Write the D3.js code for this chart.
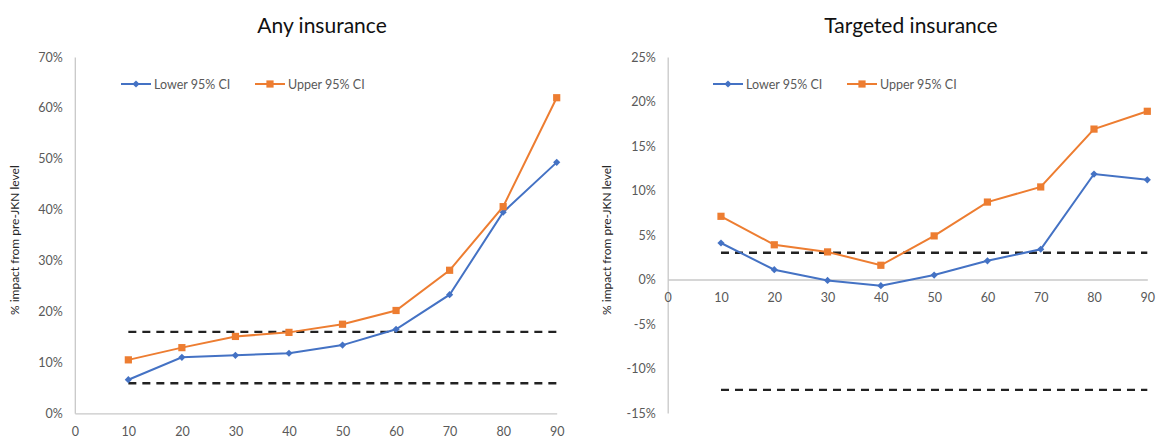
<!DOCTYPE html>
<html>
<head>
<meta charset="utf-8">
<script src="https://cdn.jsdelivr.net/npm/d3@7"></script>
<style>
  body { margin: 0; background: #fff; }
  svg { display: block; font-family: Lato, "Open Sans", sans-serif; }
</style>
</head>
<body>
<svg id="chart" width="1158" height="441"></svg>
<script>
// Percentile points along the x axis
const percentiles = [10, 20, 30, 40, 50, 60, 70, 80, 90];
const xTicks = [0, 10, 20, 30, 40, 50, 60, 70, 80, 90];

// Any insurance: 95% confidence bounds (%)
const anyLower = [6.6, 11.0, 11.4, 11.8, 13.4, 16.5, 23.3, 39.5, 49.3];
const anyUpper = [10.5, 12.9, 15.1, 15.9, 17.5, 20.2, 28.1, 40.6, 62.0];
const anyRefLines = [16.0, 5.9];
const anyYTicks = [0, 10, 20, 30, 40, 50, 60, 70];

// Targeted insurance: 95% confidence bounds (%)
const tgtLower = [4.1, 1.1, -0.1, -0.7, 0.5, 2.1, 3.4, 11.85, 11.2];
const tgtUpper = [7.1, 3.9, 3.1, 1.6, 4.9, 8.7, 10.4, 16.9, 18.9];
const tgtRefLines = [3.0, -12.4];
const tgtYTicks = [-15, -10, -5, 0, 5, 10, 15, 20, 25];

const seriesNames = ["Lower 95% CI", "Upper 95% CI"];
const BLUE = "#4472C4", ORANGE = "#ED7D31";

const svg = d3.select("#chart");

const panels = [
  { title: "Any insurance", lower: anyLower, upper: anyUpper, refs: anyRefLines,
    yTicks: anyYTicks, left: 74.8, right: 556.7, top: 57, bottom: 413.3,
    titleX: 322, labelX: 15, legendX: 121 },
  { title: "Targeted insurance", lower: tgtLower, upper: tgtUpper, refs: tgtRefLines,
    yTicks: tgtYTicks, left: 667.7, right: 1147.3, top: 57, bottom: 413,
    titleX: 911, labelX: 607, legendX: 713 }
];

// equal-sided diamond (rotated square) and square markers
const diamondPath = d3.symbol().type(d3.symbolSquare).size(26)();
const squarePath = d3.symbol().type(d3.symbolSquare).size(52)();
const markerAttrs = (sel, kind, tx) =>
  sel.attr("transform", kind === "diamond" ? `${tx} rotate(45)` : tx)
     .attr("d", kind === "diamond" ? diamondPath : squarePath);

panels.forEach(p => {
  const g = svg.append("g");
  const x = d3.scaleLinear().domain([0, 90]).range([p.left, p.right]);
  const y = d3.scaleLinear()
    .domain([d3.min(p.yTicks), d3.max(p.yTicks)])
    .range([p.bottom, p.top]);

  // title
  g.append("text").attr("x", p.titleX).attr("y", 33)
    .attr("text-anchor", "middle").attr("font-size", 21).attr("fill", "#111")
    .text(p.title);

  // y axis label
  g.append("text")
    .attr("transform", `translate(${p.labelX + 4},${(p.top + p.bottom) / 2 + 5}) rotate(-90)`)
    .attr("text-anchor", "middle").attr("font-size", 12).attr("fill", "#262626")
    .text("% impact from pre-JKN level");

  // y axis
  const yAxis = g.append("g").attr("transform", `translate(${p.left},0)`)
    .call(d3.axisLeft(y).tickValues(p.yTicks).tickSize(0).tickPadding(12)
      .tickFormat(d => d + "%"));
  yAxis.select(".domain").attr("stroke", "#c8c8c8").attr("stroke-width", 1.3);
  yAxis.selectAll("text").attr("font-size", 12.5).attr("fill", "#595959")
    .attr("font-family", "Lato, 'Open Sans', sans-serif");

  // x axis at zero
  const xAxis = g.append("g").attr("transform", `translate(0,${y(0)})`)
    .call(d3.axisBottom(x).tickValues(xTicks).tickSize(0).tickPadding(14));
  xAxis.select(".domain").attr("stroke", "#c8c8c8").attr("stroke-width", 1.3);
  xAxis.selectAll("text").attr("font-size", 12.5).attr("fill", "#595959")
    .attr("font-family", "Lato, 'Open Sans', sans-serif");

  // reference dashed lines
  p.refs.forEach(v => {
    g.append("line")
      .attr("x1", x(10)).attr("x2", x(90)).attr("y1", y(v)).attr("y2", y(v))
      .attr("stroke", "#222").attr("stroke-width", 2.4)
      .attr("stroke-dasharray", "8,6");
  });

  const line = d3.line().x((d, i) => x(percentiles[i])).y(d => y(d));

  const series = [
    { values: p.lower, color: BLUE, marker: "diamond" },
    { values: p.upper, color: ORANGE, marker: "square" }
  ];

  series.forEach(s => {
    g.append("path").datum(s.values).attr("d", line)
      .attr("fill", "none").attr("stroke", s.color).attr("stroke-width", 2);
    g.selectAll(null).data(s.values).enter().append("path")
      .each(function (d, i) {
        markerAttrs(d3.select(this), s.marker, `translate(${x(percentiles[i])},${y(d)})`);
      })
      .attr("fill", s.color);
  });

  // legend
  const lg = g.append("g").attr("transform", `translate(${p.legendX},84)`);
  series.forEach((s, i) => {
    const ox = i * 134;
    lg.append("line").attr("x1", ox).attr("x2", ox + 30).attr("y1", 0).attr("y2", 0)
      .attr("stroke", s.color).attr("stroke-width", 2);
    markerAttrs(lg.append("path"), s.marker, `translate(${ox + 15},0)`)
      .attr("fill", s.color);
    lg.append("text").attr("x", ox + 33).attr("y", 4.5)
      .attr("font-size", 12.5).attr("fill", "#595959")
      .text(seriesNames[i]);
  });
});
</script>
</body>
</html>
